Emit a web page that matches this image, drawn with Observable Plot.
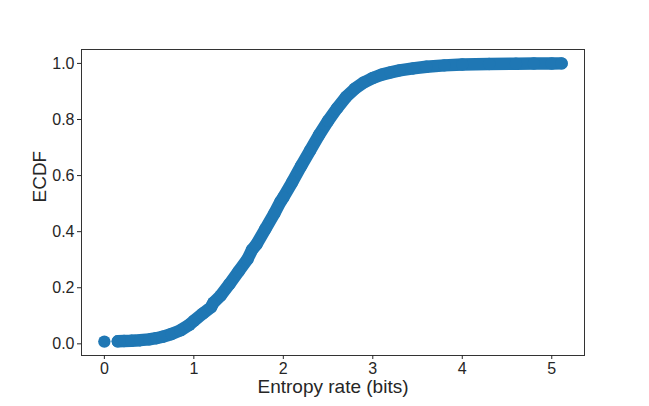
<!DOCTYPE html>
<html>
<head>
<meta charset="utf-8">
<script src="https://cdn.jsdelivr.net/npm/d3@7"></script>
<script src="https://cdn.jsdelivr.net/npm/@observablehq/plot@0.6"></script>
<style>
  html, body { margin: 0; padding: 0; background: #fff; }
  #chart { width: 649px; height: 406px; }
</style>
</head>
<body>
<div id="chart"></div>
<script>
// Entropy rate (bits) values and their ECDF
const entropyRate = [0.00, 0.15, 0.22, 0.30, 0.40, 0.50, 0.58, 0.65, 0.75, 0.85, 0.95, 1.00, 1.10, 1.19, 1.22, 1.30, 1.40, 1.50, 1.60, 1.65, 1.70, 1.80, 1.90, 1.97, 2.00, 2.10, 2.20, 2.30, 2.40, 2.50, 2.60, 2.70, 2.80, 2.90, 3.00, 3.10, 3.20, 3.30, 3.45, 3.60, 3.80, 4.00, 4.30, 4.60, 4.80, 5.00, 5.11];
const ecdf =        [0.008, 0.009, 0.010, 0.011, 0.013, 0.016, 0.020, 0.025, 0.035, 0.048, 0.068, 0.082, 0.108, 0.130, 0.147, 0.172, 0.214, 0.258, 0.302, 0.335, 0.355, 0.410, 0.465, 0.508, 0.522, 0.577, 0.635, 0.690, 0.745, 0.795, 0.840, 0.880, 0.910, 0.932, 0.948, 0.960, 0.968, 0.975, 0.982, 0.988, 0.993, 0.996, 0.998, 0.999, 0.9995, 0.9997, 1.000];
const xTicks = [0, 1, 2, 3, 4, 5];
const yTicks = [0.0, 0.2, 0.4, 0.6, 0.8, 1.0];
const xLabel = "Entropy rate (bits)";
const yLabel = "ECDF";

const data = entropyRate.map((x, i) => ({x, y: ecdf[i]}));
const band = data.slice(1);

const blue = "#1f77b4";
const font = "'Liberation Sans', Arial, sans-serif";

const chart = Plot.plot({
  width: 649,
  height: 406,
  marginLeft: 81,
  marginRight: 65,
  marginTop: 49,
  marginBottom: 51,
  style: {fontFamily: font, background: "#fff", color: "#262626"},
  x: {domain: [-0.2555, 5.366]},
  y: {domain: [-0.0416, 1.0496]},
  marks: [
    Plot.line(band, {x: "x", y: "y", stroke: blue, strokeWidth: 12.4, strokeLinecap: "round", strokeLinejoin: "round"}),
    Plot.dot(data, {x: "x", y: "y", r: 6.2, fill: blue, stroke: "none"}),
    Plot.frame({stroke: "#333", strokeWidth: 1}),
    Plot.axisX({ticks: xTicks, tickSize: 4, tickPadding: 3, fontSize: 16, tickFormat: d3.format("d"), label: null}),
    Plot.axisY({ticks: yTicks, tickSize: 4, tickPadding: 3, fontSize: 16, tickFormat: d3.format(".1f"), label: null}),
    Plot.text([xLabel], {frameAnchor: "bottom", dy: 31, lineAnchor: "middle", fontSize: 19, fill: "#262626"}),
    Plot.text([yLabel], {frameAnchor: "left", dx: -42, rotate: -90, lineAnchor: "middle", fontSize: 19, fill: "#262626"})
  ]
});
document.getElementById("chart").appendChild(chart);
</script>
</body>
</html>
